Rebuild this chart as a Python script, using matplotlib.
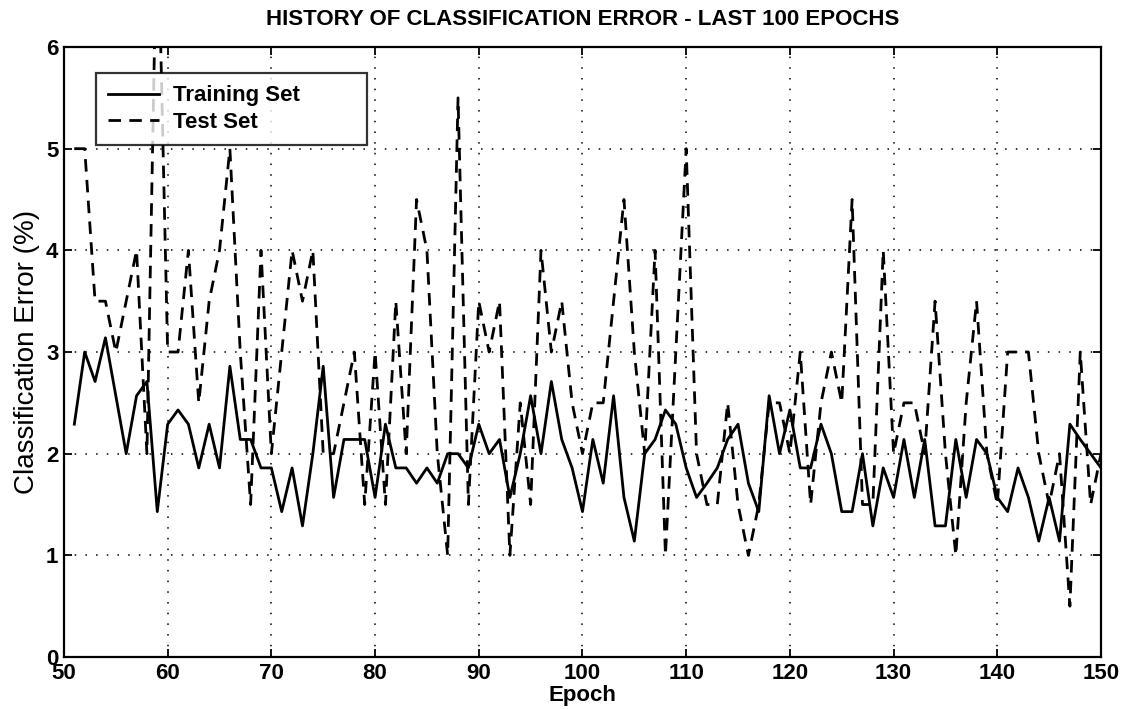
#!/usr/bin/env python3
import numpy as np
import matplotlib
matplotlib.use("Agg")
import matplotlib.pyplot as plt

# epochs 51..150
epochs = np.arange(51, 151)

# training set error (%) (steps of ~1/7 %)
train_err = [
    2.29, 3.00, 2.71, 3.14, 2.57, 2.00, 2.57, 2.71, 1.43, 2.29,
    2.43, 2.29, 1.86, 2.29, 1.86, 2.86, 2.14, 2.14, 1.86, 1.86,
    1.43, 1.86, 1.29, 2.00, 2.86, 1.57, 2.14, 2.14, 2.14, 1.57,
    2.29, 1.86, 1.86, 1.71, 1.86, 1.71, 2.00, 2.00, 1.86, 2.29,
    2.00, 2.14, 1.57, 2.00, 2.57, 2.00, 2.71, 2.14, 1.86, 1.43,
    2.14, 1.71, 2.57, 1.57, 1.14, 2.00, 2.14, 2.43, 2.29, 1.86,
    1.57, 1.71, 1.86, 2.14, 2.29, 1.71, 1.43, 2.57, 2.00, 2.43,
    1.86, 1.86, 2.29, 2.00, 1.43, 1.43, 2.00, 1.29, 1.86, 1.57,
    2.14, 1.57, 2.14, 1.29, 1.29, 2.14, 1.57, 2.14, 2.00, 1.57,
    1.43, 1.86, 1.57, 1.14, 1.57, 1.14, 2.29, 2.14, 2.00, 1.86,
]

# test set error (%), steps of 0.5 %
test_err = [
    5.0, 5.0, 3.5, 3.5, 3.0, 3.5, 4.0, 2.0, 7.5, 3.0,
    3.0, 4.0, 2.5, 3.5, 4.0, 5.0, 3.0, 1.5, 4.0, 2.0,
    3.0, 4.0, 3.5, 4.0, 2.0, 2.0, 2.5, 3.0, 1.5, 3.0,
    1.5, 3.5, 2.0, 4.5, 4.0, 2.0, 1.0, 5.5, 1.5, 3.5,
    3.0, 3.5, 1.0, 2.5, 1.5, 4.0, 3.0, 3.5, 2.5, 2.0,
    2.5, 2.5, 3.5, 4.5, 3.0, 2.0, 4.0, 1.0, 3.0, 5.0,
    2.0, 1.5, 1.5, 2.5, 1.5, 1.0, 1.5, 2.5, 2.5, 2.0,
    3.0, 1.5, 2.5, 3.0, 2.5, 4.5, 1.5, 1.5, 4.0, 2.0,
    2.5, 2.5, 2.0, 3.5, 2.0, 1.0, 2.5, 3.5, 2.0, 1.5,
    3.0, 3.0, 3.0, 2.0, 1.5, 2.0, 0.5, 3.0, 1.5, 2.0,
]

x_ticks = list(range(50, 151, 10))
y_ticks = list(range(0, 7))

plt.rcParams['font.family'] = ['Liberation Sans', 'DejaVu Sans']

fig = plt.figure(figsize=(11.34, 7.09), dpi=100)
# axes box: left 64px, right 1101px, top 47px, bottom 657px
ax = fig.add_axes([0.0564, 0.0733, 0.9145, 0.8604])

ax.plot(epochs, train_err, color='black', lw=2.0, label='Training Set')
ax.plot(epochs, test_err, color='black', lw=2.0, linestyle=(0, (4.5, 3)),
        label='Test Set')

ax.set_xlim(50, 150)
ax.set_ylim(0, 6)
ax.set_xticks(x_ticks)
ax.set_yticks(y_ticks)
ax.grid(True, color='black', linestyle=(0, (1, 6)), linewidth=1.1)

ax.tick_params(direction='in', length=6, width=1.3, top=True, right=True,
               labelsize=16, pad=4)
for lab in ax.get_xticklabels() + ax.get_yticklabels():
    lab.set_fontweight('bold')
for sp in ax.spines.values():
    sp.set_linewidth(1.6)

ax.set_title('HISTORY OF CLASSIFICATION ERROR - LAST 100 EPOCHS',
             fontsize=16, fontweight='bold', pad=16)
ax.set_xlabel('Epoch', fontsize=16, fontweight='bold', labelpad=1)
ax.set_ylabel('Classification Error (%)', fontsize=20, labelpad=4,
              family=['Liberation Sans Narrow', 'Liberation Sans'])

leg = ax.legend(loc='upper left', bbox_to_anchor=(0.031, 0.957, 0.261, 0.0),
                mode='expand', fontsize=16, frameon=True, fancybox=False,
                handlelength=2.3, handletextpad=0.6, borderpad=0.55,
                labelspacing=0.25, borderaxespad=0)
leg.get_frame().set_edgecolor('black')
leg.get_frame().set_linewidth(1.6)
for t in leg.get_texts():
    t.set_fontweight('bold')

fig.savefig('out.png', dpi=100)
